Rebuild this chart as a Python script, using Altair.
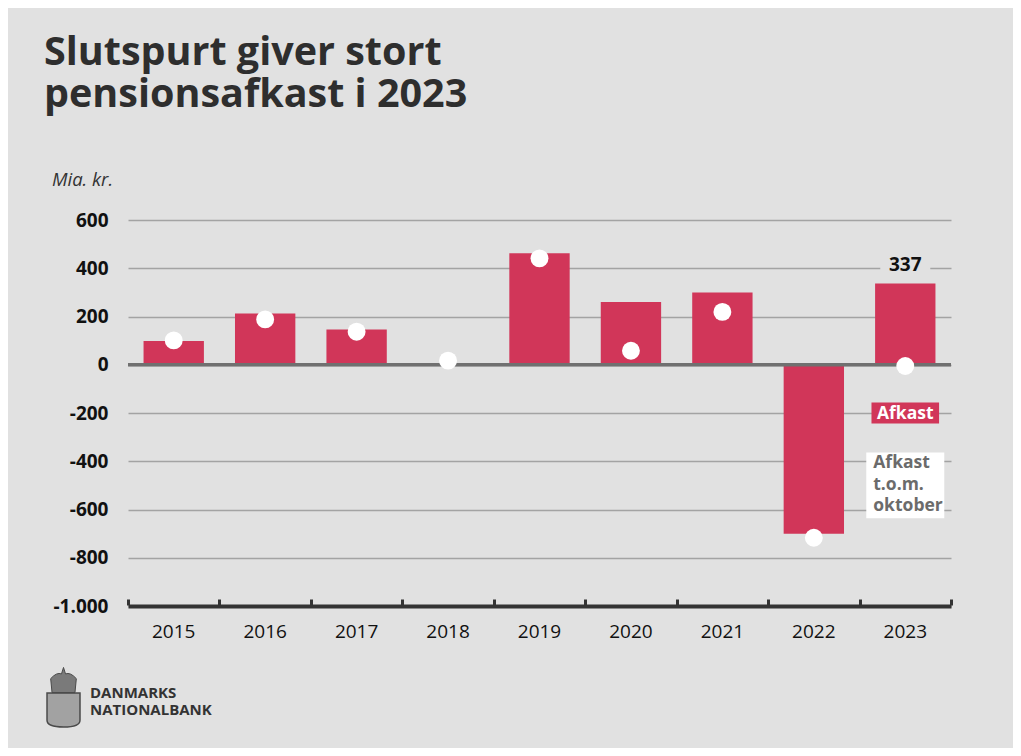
import altair as alt
import pandas as pd

# ---- data ----
years = ["2015", "2016", "2017", "2018", "2019", "2020", "2021", "2022", "2023"]
afkast = [98, 212, 146, -4, 462, 260, 299, -700, 337]
afkast_tom_oktober = [101, 188, 137, 17, 441, 58, 219, -717, -5]

y_ticks = [-1000, -800, -600, -400, -200, 0, 200, 400, 600]

legend_year = "2023"
legend1_lines = ["Afkast"]
legend1_pos = -200
legend2_lines = ["Afkast", "t.o.m.", "oktober"]
legend2_pos = -500

title_lines = ["Slutspurt giver stort", "pensionsafkast i 2023"]
unit_label = "Mia. kr."
logo_lines = ["DANMARKS", "NATIONALBANK"]

# ---- styles ----
BG = "#e1e1e1"
RED = "#d13659"
FONT = "Open Sans"

df = pd.DataFrame({"year": years, "afkast": afkast, "okt": afkast_tom_oktober})
last = pd.DataFrame({"year": [years[-1]], "afkast": [afkast[-1]]})
leg1 = pd.DataFrame({"year": [legend_year], "pos": [legend1_pos], "lines": [legend1_lines]})
leg2 = pd.DataFrame({"year": [legend_year], "pos": [legend2_pos], "lines": [legend2_lines]})
one = pd.DataFrame({"k": [0]})

MINUS = "\u2212"
y_axis = alt.Axis(
    values=y_ticks, domain=False, ticks=False, grid=True,
    gridColor="#a3a3a3", gridWidth=1.3,
    labelFont=FONT, labelFontWeight="bold", labelFontSize=19, labelColor="#111111",
    labelPadding=20,
    labelExpr=f"replace(replace(format(datum.value, ',d'), ',', '.'), '{MINUS}', '-')",
    title=None,
)
y_scale = alt.Scale(domain=[-1000, 600], nice=False, zero=False)
x_scale = alt.Scale(domain=years, paddingInner=0.34, paddingOuter=0.17)

main_x_axis = alt.Axis(
    orient="bottom",
    domain=True, domainColor="#333333", domainWidth=4, ticks=False, grid=False,
    labelFont=FONT, labelFontSize=19, labelColor="#111111", labelAngle=0,
    labelPadding=16, title=None,
)
tick_x_axis = alt.Axis(
    orient="bottom",
    domain=False, labels=False, grid=False, ticks=True, tickBand="extent",
    tickColor="#333333", tickWidth=3, tickSize=6, offset=-7, title=None,
)

bars = alt.Chart(df).mark_bar(color=RED).encode(
    x=alt.X("year:N", scale=x_scale, axis=main_x_axis, sort=years),
    y=alt.Y("afkast:Q", scale=y_scale, axis=y_axis),
)

zero = alt.Chart(one).mark_rule(color="#707070", strokeWidth=3.5).encode(
    y=alt.datum(0)
)

dots = alt.Chart(df).mark_circle(color="white", opacity=1, size=320).encode(
    x=alt.X("year:N", sort=years),
    y=alt.Y("okt:Q", axis=y_axis),
)

box_path_337 = "M-1,-0.4L1,-0.4L1,0.4L-1,0.4Z"
label_bg = alt.Chart(last).mark_point(
    shape=box_path_337, filled=True, color=BG, opacity=1, size=2500, yOffset=-19
).encode(
    x=alt.X("year:N", sort=years),
    y=alt.Y("afkast:Q", axis=y_axis),
)
label_txt = alt.Chart(last).mark_text(
    font=FONT, fontWeight="bold", fontSize=19, color="#111111",
    baseline="alphabetic", align="center", dy=-12,
).encode(
    x=alt.X("year:N", sort=years),
    y=alt.Y("afkast:Q", axis=y_axis),
    text=alt.Text("afkast:Q"),
)

leg1_box = alt.Chart(leg1).mark_point(
    shape="M-1,-0.31L1,-0.31L1,0.31L-1,0.31Z", filled=True, color=RED,
    opacity=1, size=4570,
).encode(
    x=alt.X("year:N", sort=years),
    y=alt.Y("pos:Q", axis=y_axis),
)
leg1_txt = alt.Chart(leg1).mark_text(
    font=FONT, fontWeight="bold", fontSize=17.5, color="white",
    baseline="alphabetic", align="center", dy=6,
).encode(
    x=alt.X("year:N", sort=years),
    y=alt.Y("pos:Q", axis=y_axis),
    text="lines",
)
leg2_box = alt.Chart(leg2).mark_point(
    shape="M-1,-0.846L1,-0.846L1,0.846L-1,0.846Z", filled=True, color="white",
    opacity=1, size=6084,
).encode(
    x=alt.X("year:N", sort=years),
    y=alt.Y("pos:Q", axis=y_axis),
)
leg2_txt = alt.Chart(leg2).mark_text(
    font=FONT, fontWeight="bold", fontSize=17.5, color="#6b6b6b",
    baseline="alphabetic", align="left", dx=-32, dy=-17, lineHeight=21.5,
).encode(
    x=alt.X("year:N", sort=years),
    y=alt.Y("pos:Q", axis=y_axis),
    text="lines",
)

title = alt.Chart(one).mark_text(
    text=title_lines, font=FONT, fontWeight="bold", fontSize=39.5, color="#2e2e2e",
    align="left", baseline="alphabetic", lineHeight=42,
).encode(x=alt.value(-84), y=alt.value(-155))

unit = alt.Chart(one).mark_text(
    text=unit_label, font=FONT, fontStyle="italic", fontSize=18.5, color="#333333",
    align="left", baseline="alphabetic",
).encode(x=alt.value(-76), y=alt.value(-34))

logo_txt = alt.Chart(one).mark_text(
    text=logo_lines, font=FONT, fontWeight="bold", fontSize=15, color="#333333",
    align="left", baseline="alphabetic", lineHeight=16.6,
).encode(x=alt.value(-38), y=alt.value(478))

shield_path = "M-0.97,-1L0.97,-1L0.97,0.6Q0.97,1 0,1Q-0.97,1 -0.97,0.6Z"
shield = alt.Chart(one).mark_point(
    shape=shield_path, filled=True, color="#a2a2a2", opacity=1, size=1156,
    stroke="#4a4a4a", strokeWidth=1.5,
).encode(x=alt.value(-64.5), y=alt.value(490))

crown_path = ("M-0.85,0.93L-0.95,-0.1Q-0.5,-0.6 -0.15,-0.45L0,-0.93L0.15,-0.45"
              "Q0.5,-0.6 0.95,-0.1L0.85,0.93Z")
crown = alt.Chart(one).mark_point(
    shape=crown_path, filled=True, color="#7a7a7a", opacity=1, size=729,
    stroke="#4a4a4a", strokeWidth=1,
).encode(x=alt.value(-64.5), y=alt.value(460))

# invisible layer carrying the category-boundary ticks on an unpadded band scale
tick_layer = alt.Chart(df).mark_point(opacity=0).encode(
    x=alt.X("year:N", sort=years,
            scale=alt.Scale(domain=years, paddingInner=0, paddingOuter=0),
            axis=tick_x_axis),
)

main = alt.layer(
    bars, zero, dots, label_bg, label_txt, leg1_box, leg1_txt, leg2_box, leg2_txt,
    title, unit, logo_txt, shield, crown,
)

chart = alt.layer(main, tick_layer).resolve_scale(x="independent").resolve_axis(
    x="independent"
).properties(
    width=823, height=386,
    background=BG,
    padding={"left": 120, "top": 212, "right": 62, "bottom": 142},
    autosize=alt.AutoSizeParams(type="none"),
).configure_view(stroke=None)

chart.save("out.html", embed_options={"renderer": "svg", "actions": False})
